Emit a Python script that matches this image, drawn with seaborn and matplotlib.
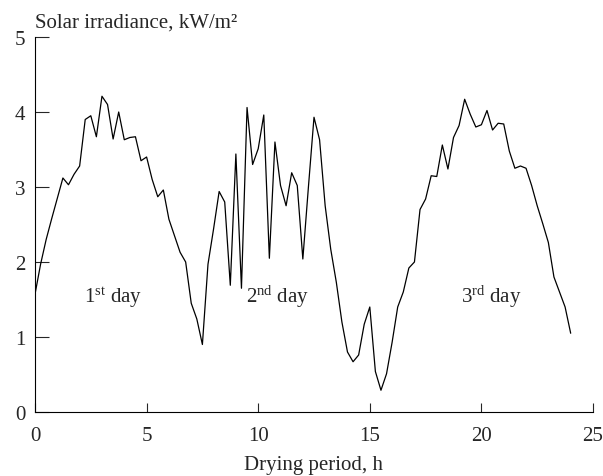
import matplotlib
matplotlib.use("Agg")
import matplotlib.pyplot as plt
import seaborn as sns
import pandas as pd

hours = [0.00, 0.25, 0.50, 0.75, 1.00, 1.25, 1.50, 1.75, 2.00, 2.25, 2.50, 2.75,
         3.00, 3.25, 3.50, 3.75, 4.00, 4.25, 4.50, 4.75, 5.00, 5.25, 5.50, 5.75,
         6.00, 6.25, 6.50, 6.75, 7.00, 7.25, 7.50, 7.75, 8.00, 8.25, 8.50, 8.75,
         9.00, 9.25, 9.50, 9.75, 10.00, 10.25, 10.50, 10.75, 11.00, 11.25, 11.50, 11.75,
         12.00, 12.25, 12.50, 12.75, 13.00, 13.25, 13.50, 13.75, 14.00, 14.25, 14.50, 14.75,
         15.00, 15.25, 15.50, 15.75, 16.00, 16.25, 16.50, 16.75, 17.00, 17.25, 17.50, 17.75,
         18.00, 18.25, 18.50, 18.75, 19.00, 19.25, 19.50, 19.75, 20.00, 20.25, 20.50, 20.75,
         21.00, 21.25, 21.50, 21.75, 22.00, 22.25, 22.50, 22.75, 23.00, 23.25, 23.50, 23.75,
         24.00]

irradiance = [1.57, 1.97, 2.30, 2.58, 2.85, 3.12, 3.03, 3.17, 3.28, 3.90, 3.95, 3.67,
              4.21, 4.10, 3.64, 4.00, 3.63, 3.66, 3.67, 3.35, 3.40, 3.10, 2.87, 2.96,
              2.57, 2.35, 2.13, 2.00, 1.45, 1.24, 0.90, 1.97, 2.44, 2.94, 2.80, 1.69,
              3.44, 1.65, 4.06, 3.30, 3.51, 3.96, 2.05, 3.60, 3.02, 2.75, 3.19, 3.02,
              2.04, 3.00, 3.93, 3.63, 2.75, 2.17, 1.73, 1.20, 0.80, 0.67, 0.76, 1.17,
              1.40, 0.54, 0.29, 0.51, 0.93, 1.40, 1.60, 1.92, 2.00, 2.70, 2.84, 3.15,
              3.14, 3.56, 3.24, 3.66, 3.82, 4.17, 3.97, 3.80, 3.83, 4.02, 3.76, 3.85,
              3.84, 3.48, 3.25, 3.28, 3.25, 3.02, 2.75, 2.51, 2.26, 1.80, 1.60, 1.40,
              1.05]

x_ticks = [0, 5, 10, 15, 20, 25]
y_ticks = [0, 1, 2, 3, 4, 5]
day_labels = [r"1$^{\rm st}$ day", r"2$^{\rm nd}$ day", r"3$^{\rm rd}$ day"]
day_label_x = [2.2, 9.45, 19.1]
day_label_y = [1.47, 1.47, 1.47]

sns.set_theme(style="ticks")
plt.rcParams["font.family"] = ["Liberation Serif", "DejaVu Serif"]
plt.rcParams["mathtext.fontset"] = "custom"
plt.rcParams["mathtext.rm"] = "Liberation Serif"
plt.rcParams["mathtext.it"] = "Liberation Serif:italic"

df = pd.DataFrame({"hours": hours, "irr": irradiance})

fig = plt.figure(figsize=(6.03, 4.77), dpi=100)
ax = fig.add_axes([35 / 603, 1 - 413 / 477, (593 - 35) / 603, (413 - 38) / 477])

sns.lineplot(data=df, x="hours", y="irr", ax=ax, color="black", linewidth=0.9)

ax.set_xlim(0, 25)
ax.set_ylim(0, 5)
ax.set_xticks(x_ticks)
ax.set_yticks(y_ticks)
ax.set_xticklabels([str(t) for t in x_ticks])
ax.set_yticklabels([str(t) for t in y_ticks])
ax.tick_params(axis="x", direction="in", length=6.5, width=0.8, pad=10, labelsize=15)
ax.tick_params(axis="y", direction="in", length=10, width=0.8, pad=7, labelsize=15)
for s in ["top", "right"]:
    ax.spines[s].set_visible(False)
for s in ["left", "bottom"]:
    ax.spines[s].set_linewidth(0.8)
    ax.spines[s].set_color("black")

ax.set_xlabel("Drying period, h", fontsize=15, labelpad=7)
ax.set_ylabel("")
fig.text(35 / 603, 1 - 28 / 477, "Solar irradiance, kW/m²", fontsize=15,
         ha="left", va="baseline")

for lab, lx, ly in zip(day_labels, day_label_x, day_label_y):
    ax.text(lx, ly, lab, fontsize=15, ha="left", va="baseline")

fig.savefig("out.png", dpi=100)
